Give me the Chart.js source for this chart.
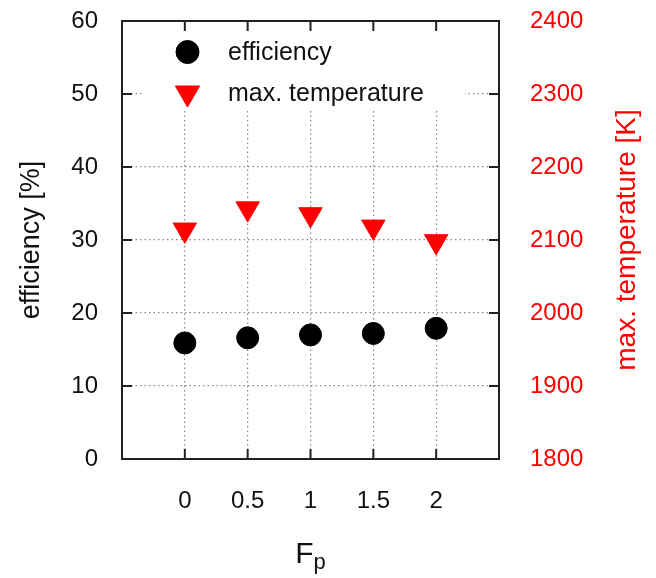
<!DOCTYPE html>
<html>
<head>
<meta charset="utf-8">
<script src="https://cdn.jsdelivr.net/npm/chart.js@4/dist/chart.umd.min.js"></script>
<style>
  html, body { margin: 0; padding: 0; background: #fff; }
  canvas { display: block; }
</style>
</head>
<body>
<canvas id="chart" width="656" height="578"></canvas>
<script>
// F_p values and their tick labels
const fpValues = [0, 0.5, 1, 1.5, 2];
const fpLabels = ['0', '0.5', '1', '1.5', '2'];

// efficiency [%] (left axis)
const efficiency = [15.9, 16.6, 17.0, 17.2, 17.9];

// max. temperature [K] (right axis)
const maxTemperature = [2114, 2143, 2135, 2118, 2098];

const FONT = "'Liberation Sans', Arial, Helvetica, sans-serif";
const FRAME = '#222';

// fixed axis sizes so the plot box lands where the reference has it
function fixSize(key, size) {
    return scale => {
        scale[key] = size;
        scale.paddingTop = 0;
        scale.paddingBottom = 0;
        scale.paddingLeft = 0;
        scale.paddingRight = 0;
    };
}

// frame, inner tick marks, legend and the two custom axis titles
const gnuplotLook = {
    id: 'gnuplotLook',
    beforeDatasetsDraw(chart) {
        const ctx = chart.ctx;
        const area = chart.chartArea;
        // legend box hides the grid behind it
        ctx.save();
        ctx.fillStyle = '#fff';
        ctx.fillRect(143, area.top, 322, 90);
        ctx.restore();

        const items = [
            { text: 'efficiency', style: 'circle', radius: 11.5, rotation: 0, color: '#000', y: 52 },
            { text: 'max. temperature', style: 'triangle', radius: 14, rotation: 180, color: '#ff0000', y: 93 }
        ];
        ctx.save();
        items.forEach(it => {
            ctx.fillStyle = it.color;
            ctx.strokeStyle = it.color;
            Chart.helpers.drawPoint(ctx, {
                pointStyle: it.style, radius: it.radius, rotation: it.rotation, borderWidth: 1
            }, 187.5, it.y);
            ctx.fillStyle = '#111';
            ctx.font = '25px ' + FONT;
            ctx.textAlign = 'left';
            ctx.textBaseline = 'middle';
            ctx.fillText(it.text, 228, it.y + 1);
        });
        ctx.restore();
    },
    afterDraw(chart) {
        const ctx = chart.ctx;
        const a = chart.chartArea;
        const sx = chart.scales.x, sy = chart.scales.y, sy2 = chart.scales.y2;
        const tl = 10;
        ctx.save();
        ctx.strokeStyle = FRAME;
        ctx.lineWidth = 2;
        ctx.strokeRect(a.left, a.top, a.right - a.left, a.bottom - a.top);
        ctx.beginPath();
        sx.ticks.forEach(t => {
            const px = sx.getPixelForValue(t.value);
            ctx.moveTo(px, a.bottom); ctx.lineTo(px, a.bottom - tl);
            ctx.moveTo(px, a.top); ctx.lineTo(px, a.top + tl);
        });
        sy.ticks.forEach(t => {
            const py = sy.getPixelForValue(t.value);
            ctx.moveTo(a.left, py); ctx.lineTo(a.left + tl, py);
        });
        sy2.ticks.forEach(t => {
            const py = sy2.getPixelForValue(t.value);
            ctx.moveTo(a.right, py); ctx.lineTo(a.right - tl, py);
        });
        ctx.stroke();

        // right axis title, reading bottom to top
        ctx.fillStyle = '#ff0000';
        ctx.font = '28px ' + FONT;
        ctx.textAlign = 'center';
        ctx.textBaseline = 'middle';
        ctx.translate(627, (a.top + a.bottom) / 2);
        ctx.rotate(-Math.PI / 2);
        ctx.fillText('max. temperature [K]', 0, 0);
        ctx.restore();

        // x axis title F with subscript p
        ctx.save();
        ctx.fillStyle = '#111';
        ctx.textBaseline = 'alphabetic';
        ctx.textAlign = 'left';
        ctx.font = '30px ' + FONT;
        const wF = ctx.measureText('F').width;
        ctx.font = '22px ' + FONT;
        const wP = ctx.measureText('p').width;
        const x0 = (a.left + a.right) / 2 - (wF + wP) / 2;
        ctx.font = '30px ' + FONT;
        ctx.fillText('F', x0, 563);
        ctx.font = '22px ' + FONT;
        ctx.fillText('p', x0 + wF, 569);
        ctx.restore();
    }
};

new Chart(document.getElementById('chart'), {
    type: 'scatter',
    data: {
        datasets: [
            {
                label: 'efficiency',
                data: fpValues.map((x, i) => ({ x: x, y: efficiency[i] })),
                yAxisID: 'y',
                pointStyle: 'circle',
                pointRadius: 11,
                pointBorderWidth: 1,
                backgroundColor: '#000',
                borderColor: '#000'
            },
            {
                label: 'max. temperature',
                data: fpValues.map((x, i) => ({ x: x, y: maxTemperature[i] })),
                yAxisID: 'y2',
                pointStyle: 'triangle',
                pointRotation: 180,
                pointRadius: 13.5,
                pointBorderWidth: 1,
                backgroundColor: '#ff0000',
                borderColor: '#ff0000'
            }
        ]
    },
    options: {
        responsive: false,
        animation: false,
        devicePixelRatio: 1,
        layout: { padding: { top: 21, left: 0, right: 0, bottom: 0 } },
        plugins: {
            legend: { display: false },
            tooltip: { enabled: false }
        },
        scales: {
            x: {
                type: 'linear',
                min: -0.5,
                max: 2.5,
                afterBuildTicks: scale => { scale.ticks = fpValues.map(v => ({ value: v })); },
                afterFit: fixSize('height', 119),
                ticks: {
                    padding: 28,
                    color: '#111',
                    font: { family: FONT, size: 24 },
                    callback: v => fpLabels[fpValues.indexOf(v)]
                },
                grid: { drawTicks: false, color: '#888', lineWidth: 1.2 },
                border: { display: false, dash: [1.5, 3] }
            },
            y: {
                position: 'left',
                min: 0,
                max: 60,
                afterFit: fixSize('width', 122),
                ticks: {
                    stepSize: 10,
                    padding: 24,
                    color: '#111',
                    font: { family: FONT, size: 24 },
                    callback: v => String(v)
                },
                title: {
                    display: true,
                    text: 'efficiency [%]',
                    color: '#111',
                    font: { family: FONT, size: 27 },
                    padding: { top: 15, bottom: 0 }
                },
                grid: { drawTicks: false, color: '#888', lineWidth: 1.2 },
                border: { display: false, dash: [1.5, 3] }
            },
            y2: {
                position: 'right',
                min: 1800,
                max: 2400,
                afterFit: fixSize('width', 157),
                ticks: {
                    stepSize: 100,
                    padding: 31,
                    color: '#ff0000',
                    font: { family: FONT, size: 24 },
                    callback: v => String(v)
                },
                grid: { display: false, drawTicks: false },
                border: { display: false }
            }
        }
    },
    plugins: [gnuplotLook]
});
</script>
</body>
</html>
